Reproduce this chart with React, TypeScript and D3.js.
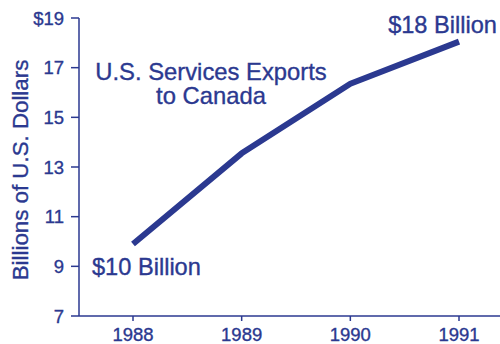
import React from "react";
import * as d3 from "d3";

const years = [1988, 1989, 1990, 1991];
const exportsBillions = [9.9, 13.55, 16.35, 18.05];
const yTicks = [7, 9, 11, 13, 15, 17, 19];
const yTickLabels = ["7", "9", "11", "13", "15", "17", "$19"];
const title = ["U.S. Services Exports", "to Canada"];
const startLabel = "$10 Billion";
const endLabel = "$18 Billion";
const yAxisTitle = "Billions of U.S. Dollars";

const W = 500;
const H = 344;
const NAVY = "#2b3990";
const FONT = "'Liberation Sans', Arial, Helvetica, sans-serif";

export default function App() {
  const x = d3.scaleLinear().domain([1988, 1991]).range([133, 459]);
  const y = d3.scaleLinear().domain([7, 19]).range([316, 18]);
  const axisLeft = 79;
  const axisRight = 500;
  const pts = years.map((yr, i) => [yr, exportsBillions[i]] as [number, number]);
  const line = d3
    .line<[number, number]>()
    .x((d) => x(d[0]))
    .y((d) => y(d[1]));

  const textStyle = { fill: NAVY, stroke: NAVY, strokeWidth: 0.35 };

  return (
    <svg
      width={W}
      height={H}
      style={{ position: "absolute", left: 0, top: 0, background: "#fff" }}
      fontFamily={FONT}
    >
      <rect width={W} height={H} fill="#fff" />
      {/* y axis */}
      <line x1={axisLeft} x2={axisLeft} y1={y(19)} y2={y(7)} stroke={NAVY} strokeWidth={1.5} />
      {yTicks.map((t, i) => (
        <g key={t}>
          <line x1={axisLeft - 8} x2={axisLeft} y1={y(t)} y2={y(t)} stroke={NAVY} strokeWidth={1.5} />
          <text
            x={axisLeft - 15}
            y={y(t)}
            dy="0.36em"
            textAnchor="end"
            fontSize={18.5}
            style={textStyle}
          >
            {yTickLabels[i]}
          </text>
        </g>
      ))}
      {/* x axis */}
      <line x1={axisLeft} x2={axisRight} y1={y(7)} y2={y(7)} stroke={NAVY} strokeWidth={1.5} />
      {years.map((yr) => (
        <g key={yr}>
          <line x1={x(yr)} x2={x(yr)} y1={y(7)} y2={y(7) + 5} stroke={NAVY} strokeWidth={1.5} />
          <text x={x(yr)} y={341} textAnchor="middle" fontSize={18.5} style={textStyle}>
            {yr}
          </text>
        </g>
      ))}
      {/* y axis title */}
      <text
        transform={`translate(28, ${(y(7) + y(19)) / 2 + 3}) rotate(-90)`}
        textAnchor="middle"
        fontSize={22.3}
        style={textStyle}
      >
        {yAxisTitle}
      </text>
      {/* data line */}
      <path d={line(pts) || ""} fill="none" stroke={NAVY} strokeWidth={6} strokeLinejoin="round" />
      {/* annotations */}
      <text x={211} y={80} textAnchor="middle" fontSize={23.8} style={textStyle}>
        {title[0]}
      </text>
      <text x={211} y={104} textAnchor="middle" fontSize={23.8} style={textStyle}>
        {title[1]}
      </text>
      <text x={92} y={275} fontSize={23.6} style={textStyle}>
        {startLabel}
      </text>
      <text x={497} y={33} textAnchor="end" fontSize={23.6} style={textStyle}>
        {endLabel}
      </text>
    </svg>
  );
}
